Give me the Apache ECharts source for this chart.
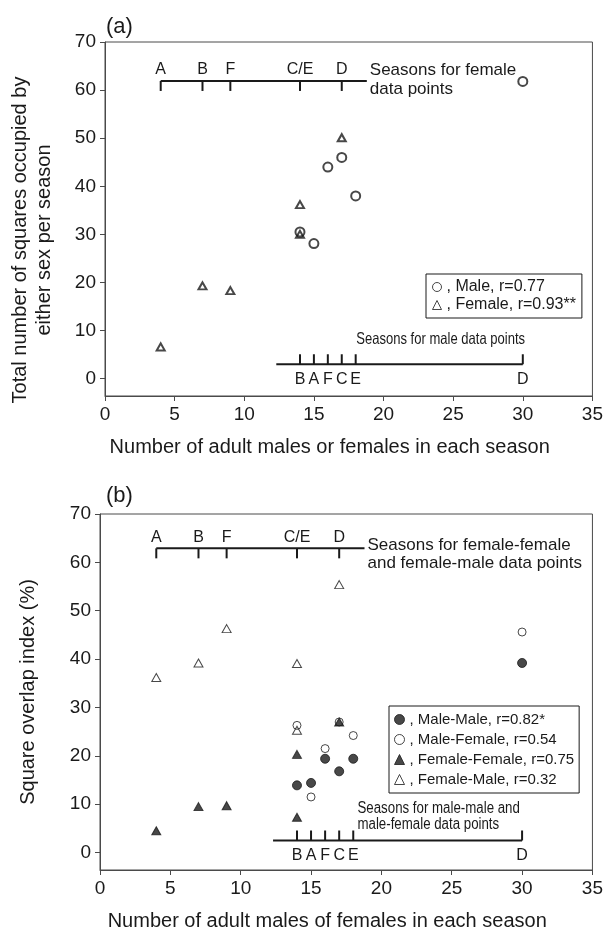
<!DOCTYPE html>
<html><head><meta charset="utf-8">
<script src="https://cdn.jsdelivr.net/npm/echarts@6/dist/echarts.min.js"></script>
<style>html,body{margin:0;padding:0;background:#fff}#c{width:606px;height:933px}</style>
</head><body><div id="c"></div>
<script>
// ---------- data ----------
const yTickValues = [0, 10, 20, 30, 40, 50, 60, 70];
// Panel (a)
const maleAX = [14, 15, 16, 17, 18, 30];
const maleAY = [30.5, 28.1, 44.0, 46.0, 38.0, 61.8];
const femaleAX = [4, 7, 9, 14, 14, 17];
const femaleAY = [6.6, 19.3, 18.3, 36.2, 30.0, 50.1];
// Panel (b)
const mmX = [14, 15, 16, 17, 18, 30];
const mmY = [13.9, 14.4, 19.4, 16.8, 19.4, 39.2];
const mfX = [14, 15, 16, 17, 18, 30];
const mfY = [26.3, 11.5, 21.5, 27.0, 24.2, 45.6];
const ffX = [4, 7, 9, 14, 14, 17];
const ffY = [4.5, 9.5, 9.7, 20.3, 7.3, 27.0];
const fmX = [4, 7, 9, 14, 14, 17];
const fmY = [36.2, 39.2, 46.3, 39.1, 25.3, 55.4];
// Season annotations
const femaleSeasonLabels = ['A', 'B', 'F', 'C/E', 'D'];
const femaleSeasonX = [4, 7, 9, 14, 17];
const maleSeasonLabels = ['B', 'A', 'F', 'C', 'E', 'D'];
const maleSeasonX = [14, 15, 16, 17, 18, 30];
const femaleBarA = { y: 61.9, from: 4, to: 18.8 };
const maleBarA = { y: 3.0, from: 12.3, to: 30 };
const femaleBarB = { y: 62.9, from: 4, to: 18.8 };
const maleBarB = { y: 2.5, from: 12.3, to: 30 };
const maleNoteXA = 24.1;
const maleNoteXB = 18.3;
const noteFA = ['Seasons for female', 'data points'];
const noteMA = ['Seasons for male data points'];
const noteFB = ['Seasons for female-female', 'and female-male data points'];
const noteMB = ['Seasons for male-male and', 'male-female data points'];

// ---------- styles ----------
const FONT = "'Liberation Sans', Arial, Helvetica, sans-serif";
const INK = '#1a1a1a';
const AX = '#4a4a4a';
const pairs = (xs, ys) => xs.map((x, i) => [x, ys[i]]);

function seasonBar(idx, bar, ticks, labels, dir, labelDy, notes) {
  return {
    type: 'custom', xAxisIndex: idx, yAxisIndex: idx, silent: true, z: 1,
    data: [[bar.from, bar.y]],
    renderItem: function (params, api) {
      const ch = [];
      const a = api.coord([bar.from, bar.y]);
      const b = api.coord([bar.to, bar.y]);
      ch.push({ type: 'line', shape: { x1: a[0], y1: a[1], x2: b[0], y2: b[1] },
        style: { stroke: INK, lineWidth: 2 } });
      ticks.forEach(function (t, i) {
        const p = api.coord([t, bar.y]);
        ch.push({ type: 'line', shape: { x1: p[0], y1: p[1], x2: p[0], y2: p[1] + dir * 10 },
          style: { stroke: INK, lineWidth: 2 } });
        ch.push({ type: 'text', x: p[0], y: p[1] + labelDy,
          style: { text: labels[i], fill: INK, fontSize: 16, fontFamily: FONT, align: 'center', verticalAlign: 'middle' } });
      });
      notes.forEach(function (n) {
        const p = api.coord([n.x, bar.y]);
        ch.push({ type: 'text', x: p[0] + (n.dx || 0), y: p[1] + n.dy, scaleX: n.sx || 1,
          style: { text: n.s, fill: INK, fontSize: n.fs, fontFamily: FONT, align: n.align, verticalAlign: 'middle' } });
      });
      return { type: 'group', children: ch };
    }
  };
}

function xAxisCfg(idx, name) {
  return {
    gridIndex: idx, type: 'value', min: 0, max: 35, interval: 5,
    name: name, nameLocation: 'middle', nameGap: 41,
    nameTextStyle: { fontSize: 20, color: INK, fontFamily: FONT, padding: [0, 38, 0, 0] },
    axisLine: { onZero: false, lineStyle: { color: AX, width: 1 } },
    axisTick: { length: 5, lineStyle: { color: AX } },
    axisLabel: { fontSize: 19, color: INK, fontFamily: FONT, margin: 9 },
    splitLine: { show: false }
  };
}
function yAxisCfg(idx, name, gap, pad) {
  return {
    gridIndex: idx, type: 'value', min: -3.6, max: 70,
    name: name, nameLocation: 'middle', nameGap: gap,
    nameTextStyle: { fontSize: 20, color: INK, fontFamily: FONT, lineHeight: 24, padding: pad },
    axisLine: { onZero: false, lineStyle: { color: AX, width: 1 } },
    axisTick: { length: 5, customValues: yTickValues, lineStyle: { color: AX } },
    axisLabel: { fontSize: 19, color: INK, fontFamily: FONT, margin: 9, customValues: yTickValues },
    splitLine: { show: false }
  };
}

const chart = echarts.init(document.getElementById('c'), null, { renderer: 'canvas' });
chart.setOption({
  animation: false,
  backgroundColor: '#fff',
  title: [
    { text: '(a)', left: 101, top: 11, textStyle: { fontSize: 22, fontWeight: 'normal', color: INK, fontFamily: FONT } },
    { text: '(b)', left: 101, top: 480, textStyle: { fontSize: 22, fontWeight: 'normal', color: INK, fontFamily: FONT } }
  ],
  grid: [
    { left: 100, width: 493, top: 42, height: 354, show: true, borderColor: AX, borderWidth: 1, backgroundColor: 'transparent' },
    { left: 100, width: 493, top: 514, height: 356, show: true, borderColor: AX, borderWidth: 1, backgroundColor: 'transparent' }
  ],
  xAxis: [
    xAxisCfg(0, 'Number of adult males or females in each season'),
    xAxisCfg(1, 'Number of adult males of females in each season')
  ],
  yAxis: [
    yAxisCfg(0, 'Total number of squares occupied by\neither sex per season', 49, [0, 42, 0, 0]),
    yAxisCfg(1, 'Square overlap index (%)', 60, [0, 0, 0, 0])
  ],
  legend: [
    { left: 426, top: 274, orient: 'vertical', selectedMode: false,
      data: ['Male, r=0.77', 'Female, r=0.93**'],
      borderColor: INK, borderWidth: 1, padding: [5, 6, 5, 6], itemGap: 2,
      itemWidth: 9, itemHeight: 9, formatter: n => ', ' + n,
      itemStyle: { borderWidth: 1 },
      textStyle: { fontSize: 16, color: INK, fontFamily: FONT } },
    { left: 389, top: 706, orient: 'vertical', selectedMode: false,
      data: ['Male-Male, r=0.82*', 'Male-Female, r=0.54', 'Female-Female, r=0.75', 'Female-Male, r=0.32'],
      borderColor: INK, borderWidth: 1, padding: [6, 5, 6, 5], itemGap: 5,
      itemWidth: 10, itemHeight: 10, formatter: n => ', ' + n,
      itemStyle: { borderWidth: 1 },
      textStyle: { fontSize: 15, color: INK, fontFamily: FONT } }
  ],
  series: [
    seasonBar(0, femaleBarA, femaleSeasonX, femaleSeasonLabels, 1, -11, [
      { x: femaleBarA.to, dx: 3, dy: -11, s: noteFA[0], fs: 17, align: 'left' },
      { x: femaleBarA.to, dx: 3, dy: 8, s: noteFA[1], fs: 17, align: 'left' }
    ]),
    seasonBar(0, maleBarA, maleSeasonX, maleSeasonLabels, -1, 15, [
      { x: maleNoteXA, dy: -25, s: noteMA[0], fs: 16.5, align: 'center', sx: 0.79 }
    ]),
    seasonBar(1, femaleBarB, femaleSeasonX, femaleSeasonLabels, 1, -11, [
      { x: femaleBarB.to, dx: 3, dy: -3, s: noteFB[0], fs: 17, align: 'left' },
      { x: femaleBarB.to, dx: 3, dy: 15, s: noteFB[1], fs: 17, align: 'left' }
    ]),
    seasonBar(1, maleBarB, maleSeasonX, maleSeasonLabels, -1, 15, [
      { x: maleNoteXB, dy: -32, s: noteMB[0], fs: 16, align: 'left', sx: 0.83 },
      { x: maleNoteXB, dy: -16, s: noteMB[1], fs: 16, align: 'left', sx: 0.83 }
    ]),
    { type: 'scatter', name: 'Male, r=0.77', xAxisIndex: 0, yAxisIndex: 0, z: 3,
      symbol: 'circle', symbolSize: 9, data: pairs(maleAX, maleAY),
      itemStyle: { color: 'rgba(0,0,0,0)', borderColor: INK, borderWidth: 2 } },
    { type: 'scatter', name: 'Female, r=0.93**', xAxisIndex: 0, yAxisIndex: 0, z: 3,
      symbol: 'triangle', symbolSize: [8, 7], data: pairs(femaleAX, femaleAY),
      itemStyle: { color: 'rgba(0,0,0,0)', borderColor: INK, borderWidth: 2 } },
    { type: 'scatter', name: 'Male-Male, r=0.82*', xAxisIndex: 1, yAxisIndex: 1, z: 3,
      symbol: 'circle', symbolSize: 9, data: pairs(mmX, mmY),
      itemStyle: { color: INK, borderColor: INK, borderWidth: 1 } },
    { type: 'scatter', name: 'Male-Female, r=0.54', xAxisIndex: 1, yAxisIndex: 1, z: 3,
      symbol: 'circle', symbolSize: 8, data: pairs(mfX, mfY),
      itemStyle: { color: 'rgba(0,0,0,0)', borderColor: INK, borderWidth: 1 } },
    { type: 'scatter', name: 'Female-Female, r=0.75', xAxisIndex: 1, yAxisIndex: 1, z: 3,
      symbol: 'triangle', symbolSize: [9, 8], data: pairs(ffX, ffY),
      itemStyle: { color: INK, borderColor: INK, borderWidth: 1 } },
    { type: 'scatter', name: 'Female-Male, r=0.32', xAxisIndex: 1, yAxisIndex: 1, z: 3,
      symbol: 'triangle', symbolSize: [9, 8], data: pairs(fmX, fmY),
      itemStyle: { color: 'rgba(0,0,0,0)', borderColor: INK, borderWidth: 1 } }
  ]
});
</script></body></html>
